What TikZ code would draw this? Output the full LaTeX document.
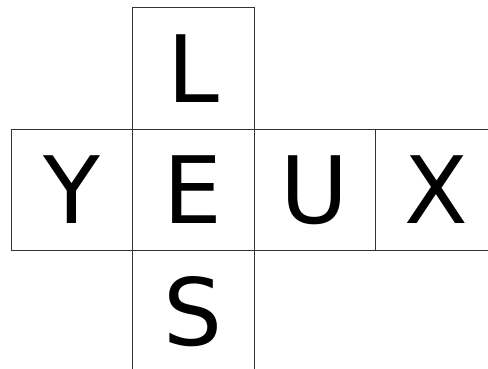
\documentclass[tikz,border=0pt]{standalone}
\usepackage{fontspec}
\setmainfont{DejaVu Sans}
\begin{document}
\begin{tikzpicture}[x=1pt,y=-1pt,
  cell/.style={draw=black!80,line width=1pt,minimum width=121.5pt,minimum height=121.5pt,inner sep=0pt,outer sep=0pt,font=\fontsize{93}{93}\selectfont,text height=68pt,text depth=0pt}]
\useasboundingbox (0,0) rectangle (488,368);
\clip (0,0) rectangle (488,368);
\node[cell] (l) at (193.25,68.5) {L};
\node[cell] (y) at (71.75,189.75) {Y};
\node[cell] (e) at (193.25,189.75) {E};
\node[cell] (u) at (314.75,189.75) {U};
\node[cell] (x) at (436.25,189.75) {X};
\node[cell] (s) at (193.25,311) {S};
\end{tikzpicture}
\end{document}
